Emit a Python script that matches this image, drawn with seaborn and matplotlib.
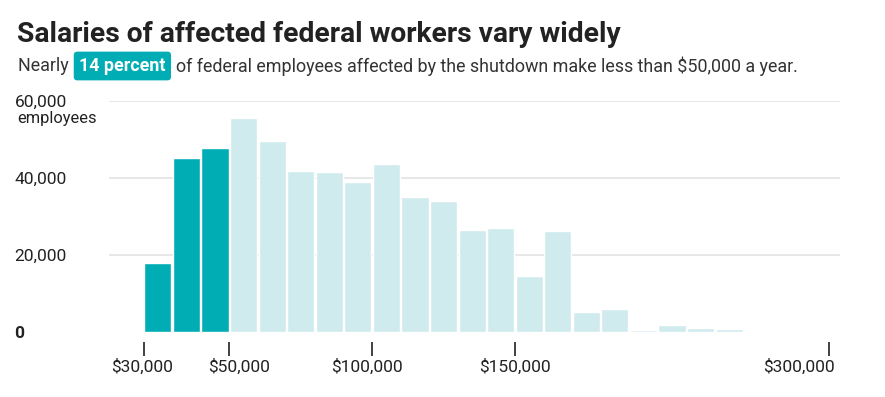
import matplotlib
matplotlib.use("Agg")
import matplotlib.pyplot as plt
import seaborn as sns
import pandas as pd

# bins of salary, counts of affected employees
bins = [f"b{i}" for i in range(25)]
counts = [300, 18000, 45100, 47800, 55700, 49600, 41800, 41600, 39000, 43600,
          35100, 33900, 26500, 27000, 14500, 26200, 5300, 6000, 500, 1900,
          1000, 700, 250, 150, 120]
under_50k = [True] * 4 + [False] * 21

tick_pos = [0.5, 3.5, 8.5, 13.5, 24.5]
tick_labels = ["$30,000", "$50,000", "$100,000", "$150,000", "$300,000"]
tick_shift = [-2, 10, -5, 0, 6]   # px nudges, like the original layout
tick_ha = ["center", "center", "center", "center", "right"]
y_ticks = [0, 20000, 40000, 60000]
y_labels = ["0", "20,000", "40,000", "60,000"]

dark = "#00adb5"
light = "#d0ebee"

df = pd.DataFrame({"bin": bins, "count": counts,
                   "group": ["low" if u else "high" for u in under_50k]})

sns.set_style("white")
plt.rcParams["font.family"] = ["Roboto", "DejaVu Sans"]

fig = plt.figure(figsize=(8.85, 3.97), dpi=100)
ax = fig.add_axes([109 / 885, 1 - 332 / 397, (840 - 109) / 885, (332 - 101) / 397])

sns.barplot(data=df, x="bin", y="count", hue="group", palette={"low": dark, "high": light},
            dodge=False, width=0.95, legend=False, ax=ax, saturation=1)

ax.set_xlim(-0.71, 24.88)
ax.set_ylim(0, 60000)
ax.set_xlabel("")
ax.set_ylabel("")

for y in y_ticks[1:]:
    ax.axhline(y, color="#e3e3e3", lw=1.2, zorder=0)
ax.set_axisbelow(True)

for s in ax.spines.values():
    s.set_visible(False)
ax.spines["bottom"].set_position(("outward", 7))

ax.set_xticks(tick_pos)
ax.set_xticklabels([])
ax.tick_params(axis="x", length=10, width=1.3, color="#333", bottom=True)
for pos, lab, dx, ha in zip(tick_pos, tick_labels, tick_shift, tick_ha):
    ax.annotate(lab, xy=(pos, 0), xycoords=("data", "axes fraction"),
                xytext=(dx, -35), textcoords="offset pixels",
                ha=ha, va="center", fontsize=12.5, color="#222")

ax.set_yticks(y_ticks)
ax.set_yticklabels(y_labels, fontsize=12.5, color="#222")
ax.tick_params(axis="y", length=0, pad=68)
for lab in ax.get_yticklabels():
    lab.set_horizontalalignment("left")
ax.get_yticklabels()[0].set_fontweight("bold")

fig.text(17 / 885, 1 - 119 / 397, "employees", fontsize=11.8, color="#222", va="center")

# title
fig.text(17 / 885, 1 - 34 / 397, "Salaries of affected federal workers vary widely",
         fontsize=20.3, fontweight="bold", color="#222", va="center")

# subtitle with highlighted phrase
fig.canvas.draw()
r = fig.canvas.get_renderer()
sub_y = 1 - 66 / 397
t1 = fig.text(18 / 885, sub_y, "Nearly ", fontsize=12.9, color="#333", va="center")
bb = t1.get_window_extent(r)
t2 = fig.text(bb.x1 / 885 + 6 / 885, sub_y, "14 percent", fontsize=12.9, fontweight="bold",
              color="white", va="center",
              bbox=dict(boxstyle="round,pad=0.3,rounding_size=0.2", fc=dark, ec="none"))
fig.canvas.draw()
bb2 = t2.get_bbox_patch().get_window_extent(r)
fig.text(bb2.x1 / 885 + 5 / 885, sub_y,
         "of federal employees affected by the shutdown make less than $50,000 a year.",
         fontsize=12.9, color="#333", va="center")

fig.savefig("out.png", dpi=100)
